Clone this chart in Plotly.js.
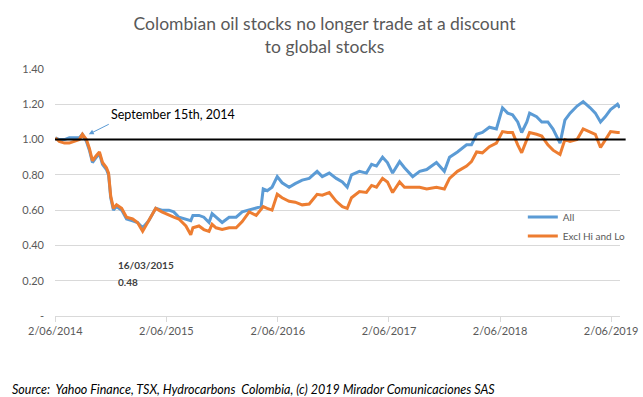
<!DOCTYPE html>
<html>
<head>
<meta charset="utf-8">
<script src="https://cdn.plot.ly/plotly-3.0.1.min.js"></script>
<style>html,body{margin:0;padding:0;background:#fff;}#chart{width:643px;height:397px;}</style>
</head>
<body>
<div id="chart"></div>
<script>
const dates = [
"2014-06-02","2014-06-15","2014-07-02","2014-07-18","2014-08-03","2014-08-20","2014-08-30","2014-09-12","2014-09-22","2014-10-02",
"2014-10-15","2014-10-25","2014-11-04","2014-11-17","2014-11-24","2014-12-01","2014-12-10","2014-12-20","2015-01-06","2015-01-22",
"2015-02-11","2015-02-27","2015-03-16","2015-04-05","2015-04-28","2015-05-18","2015-06-10","2015-06-26","2015-07-13","2015-08-05",
"2015-08-21","2015-08-28","2015-09-17","2015-10-03","2015-10-20","2015-10-30","2015-11-12","2015-12-02","2015-12-25","2016-01-17",
"2016-02-06","2016-02-29","2016-03-23","2016-04-08","2016-04-15","2016-04-28","2016-05-14","2016-05-31","2016-06-16","2016-07-09",
"2016-07-29","2016-08-21","2016-09-13","2016-10-09","2016-10-26","2016-11-18","2016-12-11","2016-12-31","2017-01-16","2017-01-30",
"2017-02-25","2017-03-20","2017-04-06","2017-04-22","2017-05-12","2017-05-28","2017-06-14","2017-07-07","2017-07-23","2017-08-19",
"2017-09-11","2017-10-04","2017-11-05","2017-12-01","2017-12-18","2018-01-13","2018-02-12","2018-02-28","2018-03-17","2018-04-05",
"2018-04-28","2018-05-21","2018-06-10","2018-06-27","2018-07-13","2018-07-30","2018-08-12","2018-08-29","2018-09-07","2018-09-30",
"2018-10-17","2018-11-06","2018-11-23","2018-12-16","2019-01-01","2019-01-18","2019-02-10","2019-03-02","2019-03-25","2019-04-11",
"2019-04-28","2019-05-14","2019-05-31","2019-06-23","2019-06-30"
];
const allStocks = [
1.01,1.00,1.00,1.01,1.01,1.01,1.03,0.99,0.94,0.87,
0.90,0.92,0.86,0.83,0.80,0.67,0.60,0.62,0.60,0.55,
0.54,0.53,0.50,0.54,0.61,0.60,0.60,0.59,0.56,0.55,
0.54,0.57,0.57,0.56,0.53,0.58,0.56,0.53,0.56,0.56,
0.59,0.60,0.61,0.62,0.72,0.71,0.73,0.79,0.755,0.73,
0.75,0.77,0.78,0.82,0.79,0.81,0.78,0.76,0.73,0.80,
0.82,0.81,0.86,0.85,0.90,0.87,0.81,0.875,0.84,0.79,
0.82,0.83,0.87,0.82,0.90,0.93,0.97,0.97,1.03,1.04,
1.07,1.06,1.18,1.15,1.14,1.10,1.04,1.10,1.15,1.13,
1.10,1.10,1.06,0.98,1.11,1.15,1.19,1.215,1.18,1.15,
1.10,1.13,1.17,1.20,1.18
];
const exclHiLo = [
1.01,0.99,0.98,0.98,0.99,1.00,1.03,1.00,0.95,0.88,
0.91,0.93,0.87,0.84,0.81,0.68,0.61,0.63,0.61,0.56,
0.55,0.53,0.48,0.54,0.61,0.59,0.57,0.56,0.55,0.51,
0.46,0.50,0.51,0.49,0.48,0.52,0.50,0.49,0.50,0.50,
0.535,0.59,0.57,0.61,0.62,0.61,0.60,0.69,0.67,0.65,
0.645,0.63,0.635,0.69,0.685,0.70,0.65,0.62,0.61,0.67,
0.705,0.70,0.74,0.73,0.78,0.76,0.70,0.76,0.73,0.73,
0.73,0.72,0.73,0.72,0.78,0.82,0.85,0.875,0.93,0.925,
0.96,0.98,1.045,1.04,1.04,0.97,0.925,1.00,1.04,1.03,
1.02,0.97,0.94,0.915,1.00,0.99,1.00,1.06,1.04,1.03,
0.955,1.00,1.045,1.04,1.04
];
const seriesNames = ["All","Excl Hi and Lo"];
const xTickVals = ["2014-06-02","2015-06-02","2016-06-02","2017-06-02","2018-06-02","2019-06-02"];
const xTickText = ["2/06/2014","2/06/2015","2/06/2016","2/06/2017","2/06/2018","2/06/2019"];
const yTickVals = [0,0.2,0.4,0.6,0.8,1.0,1.2,1.4];
const yTickText = ["-","0.20","0.40","0.60","0.80","1.00","1.20","1.40"];
const parityLevel = 1.0;
const lowDate = "2015-03-16";
const lowValue = 0.48;
const eventDate = "2014-09-20";
const eventValue = 1.03;

const FONT = "Lato, 'Open Sans', sans-serif";
const traces = [
  {x: dates, y: allStocks, name: seriesNames[0], type: "scatter", mode: "lines",
   line: {color: "#5B9BD5", width: 3}},
  {x: dates, y: exclHiLo, name: seriesNames[1], type: "scatter", mode: "lines",
   line: {color: "#ED7D31", width: 3}}
];
const layout = {
  width: 643, height: 397,
  margin: {l: 55, r: 23, t: 69, b: 81},
  paper_bgcolor: "#fff", plot_bgcolor: "#fff",
  font: {family: FONT, color: "#595959", size: 11},
  title: {text: "Colombian oil stocks no longer trade at a discount<br>to global stocks",
          xref: "paper", x: 0.477, xanchor: "center",
          yref: "container", y: 0.925, yanchor: "middle",
          font: {family: FONT, size: 17.5, color: "#595959"}},
  showlegend: true,
  legend: {x: 0.828, y: 0.46, xanchor: "left", yanchor: "top", bgcolor: "rgba(0,0,0,0)",
           font: {family: FONT, size: 10, color: "#595959"}, itemwidth: 30, tracegroupgap: 6},
  xaxis: {type: "date", range: ["2014-06-01", "2019-07-01"],
          tickvals: xTickVals, ticktext: xTickText, ticks: "outside", ticklen: 5,
          tickcolor: "#d9d9d9", showline: true, linecolor: "#d9d9d9", linewidth: 1,
          showgrid: false, zeroline: false, tickfont: {size: 11, color: "#595959"}},
  yaxis: {range: [0, 1.4], tickvals: yTickVals, ticktext: yTickText,
          showgrid: true, gridcolor: "#d9d9d9", gridwidth: 1, zeroline: false,
          showline: false, ticks: "", ticklabelstandoff: 10, tickfont: {size: 11, color: "#595959"}},
  shapes: [
    {type: "line", xref: "paper", x0: 0, x1: 1.01, yref: "y", y0: parityLevel, y1: parityLevel,
     line: {color: "#000", width: 2}}
  ],
  annotations: [
    {x: eventDate, y: eventValue, xref: "x", yref: "y", text: "September 15th, 2014",
     showarrow: true, arrowhead: 2, arrowsize: 1, arrowwidth: 1, arrowcolor: "#5B9BD5",
     ax: 20, ay: -10, xanchor: "left", yanchor: "bottom",
     font: {family: FONT, size: 12.5, color: "#000"}},
    {x: lowDate, y: lowValue, xref: "x", yref: "y", yshift: -34, xshift: -27,
     text: "<b>16/03/2015</b>", showarrow: false,
     xanchor: "left", yanchor: "middle", align: "left",
     font: {family: FONT, size: 10, color: "#404040"}},
    {x: lowDate, y: lowValue, xref: "x", yref: "y", yshift: -51, xshift: -27,
     text: "<b>" + lowValue.toFixed(2) + "</b>", showarrow: false,
     xanchor: "left", yanchor: "middle", align: "left",
     font: {family: FONT, size: 10, color: "#404040"}},
    {x: -0.08, y: -0.296, xref: "paper", yref: "paper", xanchor: "left", yanchor: "middle", showarrow: false,
     text: "<i>Source:  Yahoo Finance, TSX, Hydrocarbons  Colombia, (c) 2019 Mirador Comunicaciones SAS</i>",
     font: {family: FONT, size: 12.5, color: "#000"}}
  ]
};
Plotly.newPlot("chart", traces, layout, {displayModeBar: false, staticPlot: true});
</script>
</body>
</html>
